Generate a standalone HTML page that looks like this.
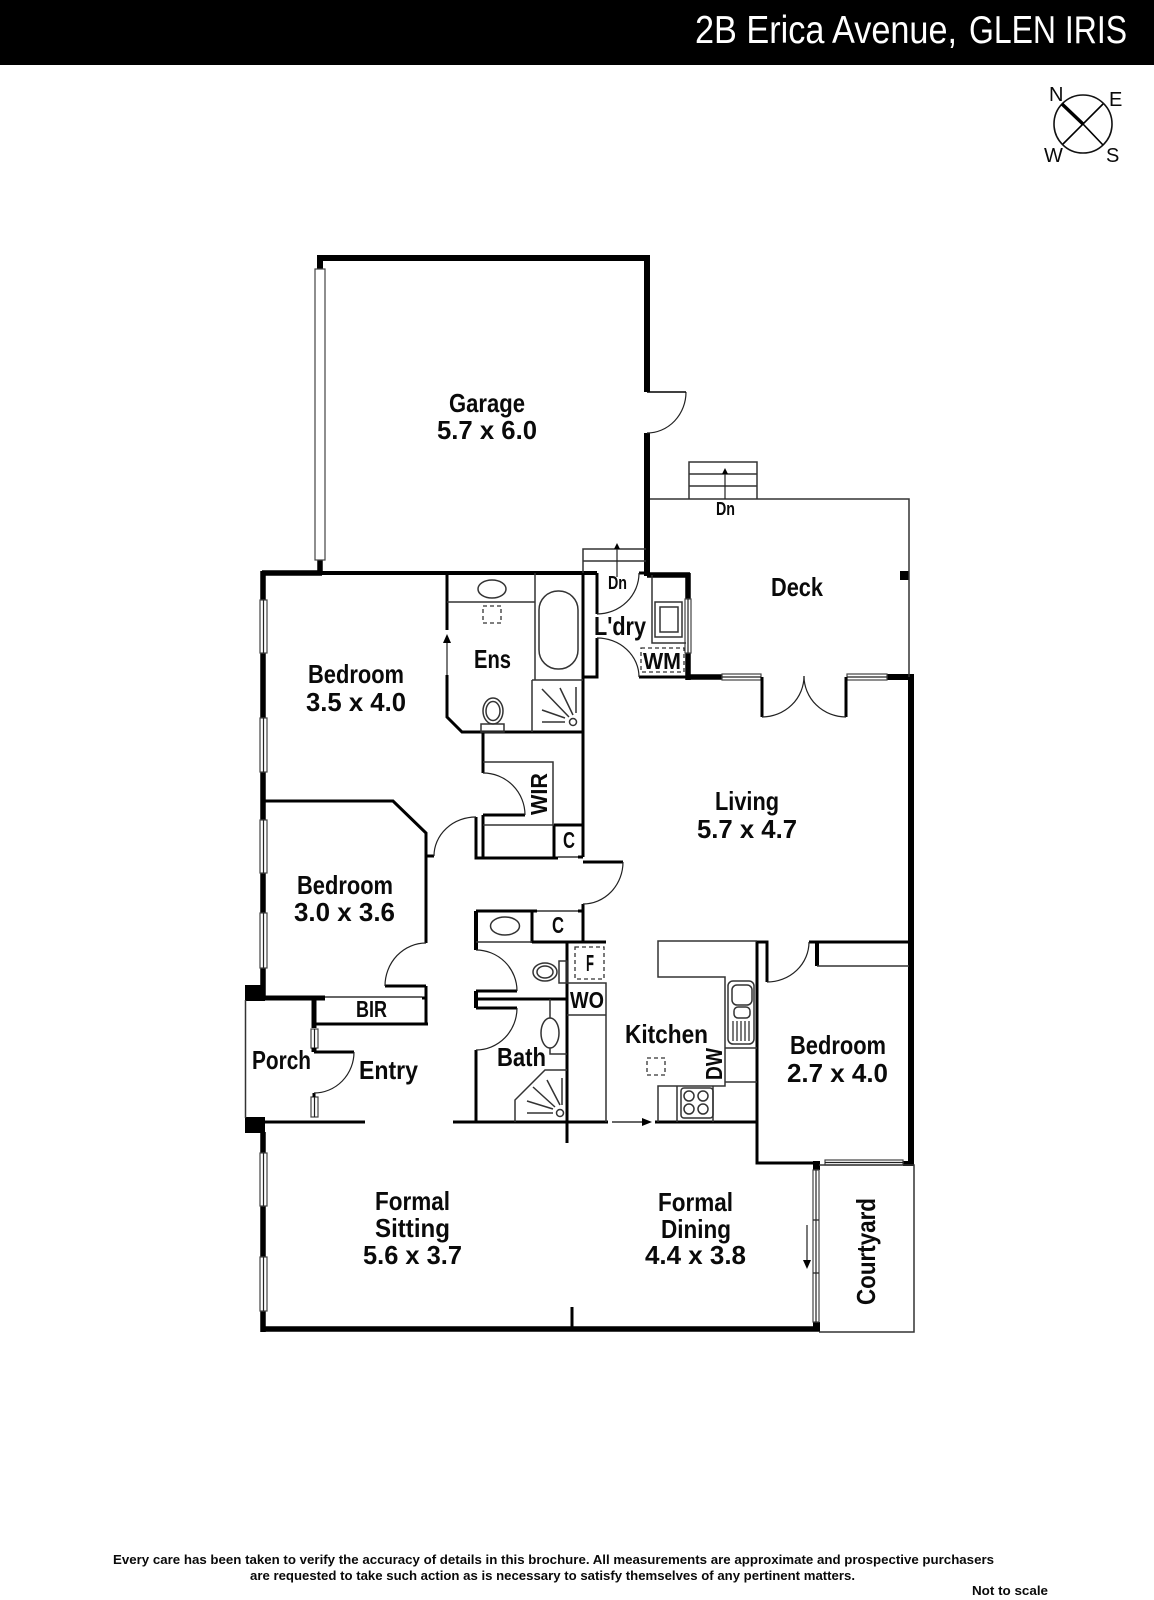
<!DOCTYPE html>
<html><head><meta charset="utf-8"><style>
html,body{margin:0;padding:0;background:#fff}
svg{display:block}
text{font-family:"Liberation Sans",sans-serif;font-weight:700;fill:#0a0a0a;font-size:26px}
.m{font-size:23px}.s{font-size:18px}.f{font-size:13px}
.n{fill:none;stroke:#111}
.t1{stroke-width:1.5;stroke:#333;fill:none}
.t2{stroke-width:1.2;stroke:#222;fill:none}
.w{stroke-width:3;stroke:#000;fill:none}
.W{stroke-width:5.5;stroke:#000;fill:none}
.g{fill:#fff;stroke:#444;stroke-width:1.2}
.d{fill:none;stroke:#333;stroke-width:1.3;stroke-dasharray:4 3}
</style></head><body>
<svg width="1154" height="1600" viewBox="0 0 1154 1600" xmlns="http://www.w3.org/2000/svg">
<rect width="1154" height="1600" fill="#fff"/>
<rect width="1154" height="65" fill="#000"/>
<text x="695" y="43" textLength="262" lengthAdjust="spacingAndGlyphs" style="font-size:39px;font-weight:400;fill:#fff">2B Erica Avenue,</text>
<text x="969" y="43" textLength="158" lengthAdjust="spacingAndGlyphs" style="font-size:39px;font-weight:400;fill:#fff">GLEN IRIS</text>

<!-- compass -->
<circle cx="1083" cy="124" r="29" class="t2" style="stroke-width:1.6;stroke:#111"/>
<path d="M1062 104L1083 124" stroke="#000" stroke-width="3.4"/>
<path d="M1083 124L1103 145M1103 104L1063 144" stroke="#000" stroke-width="1.6"/>
<g style="font-weight:400">
<text x="1049" y="101" style="font-size:20px;font-weight:400">N</text>
<text x="1109" y="106" style="font-size:20px;font-weight:400">E</text>
<text x="1044" y="162" style="font-size:20px;font-weight:400">W</text>
<text x="1106" y="162" style="font-size:20px;font-weight:400">S</text>
</g>

<!-- outer heavy walls -->
<path class="W" style="stroke-width:6" d="M320 269V258H647V392M647 433V576"/>
<path class="W" d="M320 560V574"/>
<path class="W" d="M262 573H322"/>
<path class="W" d="M263 571V1000"/>
<path class="W" style="stroke-width:4" d="M322 573H583"/>
<path class="W" d="M263 1132V1332"/>
<path class="W" d="M261 1329H820"/>
<path class="W" style="stroke-width:6" d="M911 677V1166"/>
<rect x="245" y="985" width="20" height="16" fill="#000"/>
<rect x="245" y="1117" width="20" height="16" fill="#000"/>
<rect x="813" y="1161" width="7" height="9" fill="#000"/>
<rect x="813" y="1322" width="7" height="9" fill="#000"/>
<rect x="903" y="1161" width="11" height="5" fill="#000"/>
<rect x="887" y="674" width="27" height="6" fill="#000"/>
<rect x="900" y="571" width="9" height="9" fill="#000"/>
<path class="W" d="M647 575H690M688 573V599M688 653V680M688 677H722"/>
<path class="t1" d="M245.500 1000V1118"/>

<!-- windows -->
<g>
<rect x="315" y="269" width="10" height="291" class="g"/>
<rect x="260" y="600" width="7" height="53" class="g"/><path d="M263.500 600V653" class="t2"/>
<rect x="260" y="718" width="7" height="54" class="g"/><path d="M263.500 718V772" class="t2"/>
<rect x="260" y="820" width="7" height="53" class="g"/><path d="M263.500 820V873" class="t2"/>
<rect x="260" y="913" width="7" height="55" class="g"/><path d="M263.500 913V968" class="t2"/>
<rect x="260" y="1153" width="7" height="53" class="g"/><path d="M263.500 1153V1206" class="t2"/>
<rect x="260" y="1257" width="7" height="54" class="g"/><path d="M263.500 1257V1311" class="t2"/>
<rect x="685" y="599" width="6" height="54" class="g"/><path d="M688 599V653" class="t2"/>
<rect x="722" y="674" width="39" height="6" class="g"/><path d="M722 677H761" class="t2"/>
<rect x="847" y="674" width="40" height="6" class="g"/><path d="M847 677H887" class="t2"/>
<rect x="825" y="1160" width="78" height="5" class="g"/><path d="M825 1162.500H903" class="t2"/>
<rect x="813" y="1170" width="6" height="152" class="g"/><path d="M816 1170V1322M813 1220H819M813 1273H819" class="t2"/>
<rect x="311" y="1029" width="7" height="19" class="g"/><path d="M314.500 1029V1048" class="t2"/>
<rect x="311" y="1097" width="7" height="20" class="g"/><path d="M314.500 1097V1117" class="t2"/>
</g>

<!-- interior walls -->
<g class="w">
<path class="w" d="M447 573V630M447 675V717L462 732H583"/>
<path class="w" d="M583 573V857M583 904V942"/>
<path class="w" d="M263 801H393L426 833V943M426 986V1025"/>
<path class="w" d="M385 986H426M426 856H434"/>
<path class="w" d="M476 817V858H558M483 732V773M483 815V857M483 815H525M578 857H583"/>
<path class="w" d="M554 825V857M554 825H583"/>
<path class="w" d="M583 862H623"/>
<path class="w" d="M476 1050V1122M453 1122H608M567 942V1143M532 911V943M532 942H606"/>
<path class="w" d="M476 911H537M578 911H583M476 991H517M476 1008H517M476 999H567"/>
<path class="W" style="stroke-width:4" d="M476 911V950M476 991V1008"/>
<path class="W" style="stroke-width:5" d="M265 998H325M314 998V1028M314 1048V1052"/>
<path class="w" d="M422 998H426M316 1024H428M314 1052H354M314 1093V1097"/>
<path class="w" d="M246 1122H365"/>
<path class="W" style="stroke-width:4" d="M583 573H597"/>
<path class="w" d="M597 573V614M597 638V677H583M639 677H688M639 573H650"/>
<path class="w" d="M762 677V717M846 677V717"/>
<path class="w" d="M757 941V1163H813M757 942H767V982M809 942H911"/>
<path class="W" style="stroke-width:4" d="M817 942V966"/>
<path class="w" d="M655 1122H757M572 1307V1329"/>
</g>

<!-- door arcs -->
<g class="t2" style="stroke-width:1.4">
<path class="t2" d="M686 392A39 41 0 0 1 647 433"/><path class="W" style="stroke-width:1.4" d="M647 392H686"/>
<path class="t2" d="M385 986A41 43 0 0 1 426 943"/>
<path class="t2" d="M434 856A42 39 0 0 1 476 817"/>
<path class="t2" d="M525 815A42 42 0 0 0 483 773"/>
<path class="t2" d="M623 862A40 42 0 0 1 583 904"/>
<path class="t2" d="M476 950A41 41 0 0 1 517 991"/>
<path class="t2" d="M517 1008A41 42 0 0 1 476 1050"/>
<path class="t2" d="M354 1052A40 41 0 0 1 314 1093"/>
<path class="t2" d="M597 614A42 41 0 0 0 639 573"/>
<path class="t2" d="M597 638A42 39 0 0 1 639 677"/>
<path class="t2" d="M762 717A42 41 0 0 0 804 676"/>
<path class="t2" d="M846 717A42 41 0 0 1 804 676"/>
<path class="t2" d="M767 982A42 40 0 0 0 809 942"/>
</g>

<!-- thin lines -->
<g>
<path class="t1" d="M650 499H909V677"/>
<path class="t1" d="M689 499V462H757V499M689 474H757M689 486H757"/>
<path class="t1" d="M583 573V549H646M583 561H646"/>
<path class="t2" d="M725 499V472M617 577V547"/>
<path d="M725 468l-3 6h6zM617 543l-3 6h6z" fill="#000"/>
<path class="t1" d="M652 575V643H686"/>
<rect x="655" y="602" width="27" height="35" class="t1"/>
<rect x="660" y="607" width="18" height="25" class="t1"/>
<rect x="641" y="648" width="43" height="24" class="d"/>

<path class="t1" d="M447 602H535M535 573V680M532 680H583M532 680V732"/>
<ellipse cx="492" cy="589" rx="14" ry="9" class="t1"/>
<rect x="539" y="591" width="39" height="78" rx="19" class="t1"/>
<rect x="483" y="606" width="18" height="17" class="d"/>
<ellipse cx="493" cy="711" rx="10" ry="13" class="t1"/>
<ellipse cx="493" cy="711" rx="7" ry="9.500" class="t1"/>
<rect x="481" y="724" width="23" height="8" class="t1"/>
<circle cx="573" cy="722" r="3.500" class="t1"/>
<path class="t1" d="M542 689L569 717M560 688L573 715M576 687V713M542 710L565 718M542 722H565"/>
<path class="t2" d="M447 675V640"/>
<path d="M447 634l-4 9h8z" fill="#000"/>

<path class="t1" d="M483 762H553V825M483 825H554M558 857H578"/>
<path class="t1" d="M537 911H578M476 942H532"/>
<ellipse cx="505" cy="926" rx="14.500" ry="9" class="t1"/>
<ellipse cx="545" cy="972" rx="12" ry="9" class="t1"/>
<ellipse cx="545" cy="972" rx="8" ry="6" class="t1"/>
<rect x="559" y="961" width="8" height="22" class="t1"/>
<rect x="575" y="947" width="29" height="32" class="d"/>
<path class="t1" d="M567 983H606V1122M567 1015H606"/>
<path class="t1" d="M550 999V1054H567"/>
<ellipse cx="550" cy="1033" rx="9" ry="15" class="t1" style="fill:#fff"/>
<path class="t1" d="M515 1122V1100L545 1070H567"/>
<circle cx="560" cy="1113" r="3.500" class="t1"/>
<path class="t1" d="M562 1078V1105M547 1080L560 1105M533 1087L555 1107M527 1101L553 1109M527 1113H553"/>
<path class="t1" d="M325 997H422"/>

<path class="t1" d="M757 941H658V977H725V1086H658V1122M725 1048H757M725 1082H757M677 1086V1122M713 1086V1122"/>
<rect x="728" y="981" width="26" height="63" rx="5" class="t1"/>
<rect x="732" y="985" width="20" height="20" rx="5" class="t1"/>
<rect x="734" y="1007" width="16" height="11" rx="4" class="t1"/>
<path class="t2" d="M733 1021V1041M737 1021V1041M741 1021V1041M745 1021V1041M749 1021V1041"/>
<rect x="681" y="1088" width="32" height="30" rx="3" class="t1"/>
<circle cx="689" cy="1096" r="5" class="t1"/><circle cx="703" cy="1096" r="5" class="t1"/>
<circle cx="689" cy="1109" r="5" class="t1"/><circle cx="703" cy="1109" r="5" class="t1"/>
<rect x="647" y="1058" width="18" height="17" class="d"/>
<path class="t1" d="M612 1122H645"/>
<path d="M642 1118l10 4l-10 4z" fill="#000"/>
<path class="t1" d="M817 966H909"/>
<path class="t1" d="M819 1165H914V1332H819"/>
<path class="t2" d="M807 1225V1262"/>
<path d="M803 1260l4 9l4-9z" fill="#000"/>
</g>

<!-- labels -->
<text x="449" y="412" textLength="76" lengthAdjust="spacingAndGlyphs">Garage</text>
<text x="437" y="439" textLength="100" lengthAdjust="spacingAndGlyphs">5.7 x 6.0</text>
<text x="308" y="683" textLength="96" lengthAdjust="spacingAndGlyphs">Bedroom</text>
<text x="306" y="711" textLength="100" lengthAdjust="spacingAndGlyphs">3.5 x 4.0</text>
<text x="297" y="894" textLength="96" lengthAdjust="spacingAndGlyphs">Bedroom</text>
<text x="294" y="921" textLength="101" lengthAdjust="spacingAndGlyphs">3.0 x 3.6</text>
<text x="474" y="668" textLength="37" lengthAdjust="spacingAndGlyphs">Ens</text>
<text x="771" y="596" textLength="52" lengthAdjust="spacingAndGlyphs">Deck</text>
<text x="715" y="810" textLength="64" lengthAdjust="spacingAndGlyphs">Living</text>
<text x="697" y="838" textLength="100" lengthAdjust="spacingAndGlyphs">5.7 x 4.7</text>
<text x="594" y="635" textLength="52" lengthAdjust="spacingAndGlyphs">L'dry</text>
<text x="643" y="669" textLength="38" class="m" lengthAdjust="spacingAndGlyphs">WM</text>
<text x="608" y="589" textLength="19" class="s" lengthAdjust="spacingAndGlyphs">Dn</text>
<text x="716" y="515" textLength="19" class="s" lengthAdjust="spacingAndGlyphs">Dn</text>
<text x="563" y="848" textLength="12" class="m" lengthAdjust="spacingAndGlyphs">C</text>
<text x="552" y="933" textLength="12" class="m" lengthAdjust="spacingAndGlyphs">C</text>
<text transform="translate(547,815) rotate(-90)" textLength="42" class="m" lengthAdjust="spacingAndGlyphs">WIR</text>
<text x="356" y="1017" textLength="31" class="m" lengthAdjust="spacingAndGlyphs">BIR</text>
<text x="252" y="1069" textLength="59" lengthAdjust="spacingAndGlyphs">Porch</text>
<text x="359" y="1079" textLength="59" lengthAdjust="spacingAndGlyphs">Entry</text>
<text x="497" y="1066" textLength="49" lengthAdjust="spacingAndGlyphs">Bath</text>
<text x="586" y="971" textLength="8" class="m" lengthAdjust="spacingAndGlyphs">F</text>
<text x="570" y="1008" textLength="34" class="m" lengthAdjust="spacingAndGlyphs">WO</text>
<text x="625" y="1043" textLength="83" lengthAdjust="spacingAndGlyphs">Kitchen</text>
<text transform="translate(722,1080) rotate(-90)" textLength="32" class="m" lengthAdjust="spacingAndGlyphs">DW</text>
<text x="790" y="1054" textLength="96" lengthAdjust="spacingAndGlyphs">Bedroom</text>
<text x="787" y="1082" textLength="101" lengthAdjust="spacingAndGlyphs">2.7 x 4.0</text>
<text x="375" y="1210" textLength="75" lengthAdjust="spacingAndGlyphs">Formal</text>
<text x="375" y="1237" textLength="75" lengthAdjust="spacingAndGlyphs">Sitting</text>
<text x="363" y="1264" textLength="99" lengthAdjust="spacingAndGlyphs">5.6 x 3.7</text>
<text x="658" y="1211" textLength="75" lengthAdjust="spacingAndGlyphs">Formal</text>
<text x="661" y="1238" textLength="70" lengthAdjust="spacingAndGlyphs">Dining</text>
<text x="645" y="1264" textLength="101" lengthAdjust="spacingAndGlyphs">4.4 x 3.8</text>
<text transform="translate(875,1305) rotate(-90)" textLength="107" lengthAdjust="spacingAndGlyphs">Courtyard</text>

<!-- footer -->
<text x="113" y="1564" textLength="881" class="f" lengthAdjust="spacingAndGlyphs">Every care has been taken to verify the accuracy of details in this brochure.  All measurements are approximate and prospective purchasers</text>
<text x="250" y="1580" textLength="605" class="f" lengthAdjust="spacingAndGlyphs">are requested to take such action as is necessary to satisfy themselves of any pertinent matters.</text>
<text x="972" y="1595" textLength="76" class="f" lengthAdjust="spacingAndGlyphs">Not to scale</text>
</svg>
</body></html>
